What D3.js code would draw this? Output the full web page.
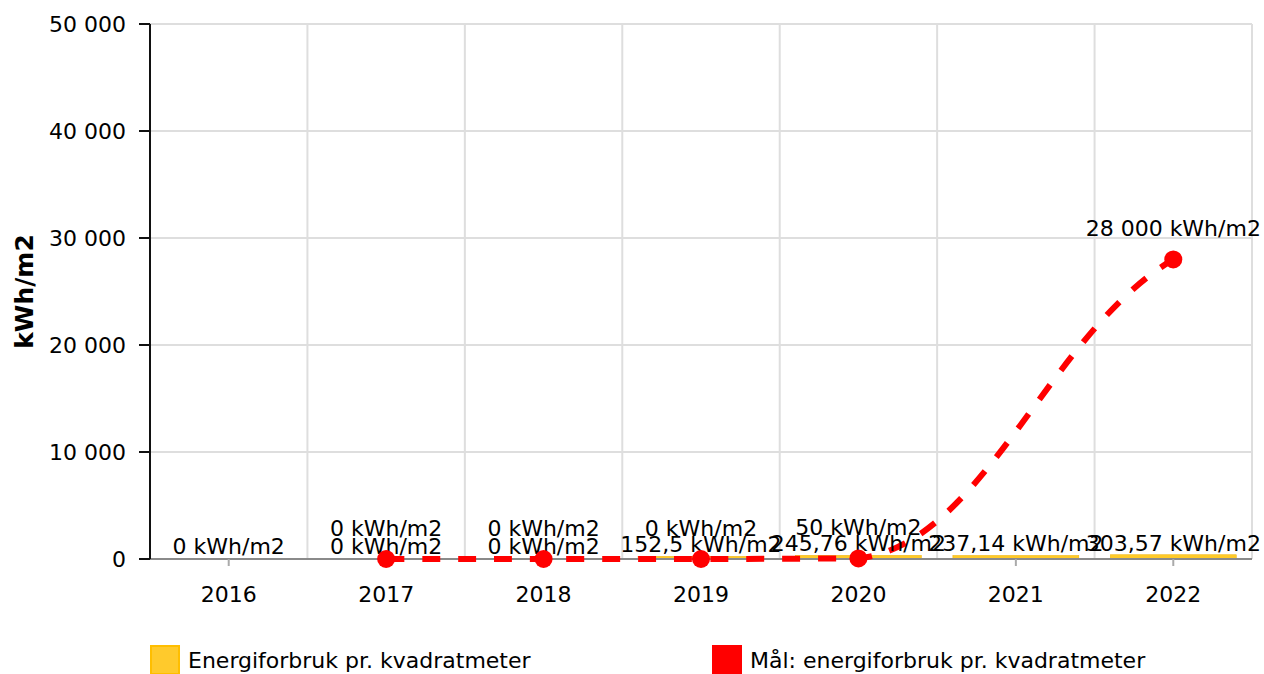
<!DOCTYPE html>
<html>
<head>
<meta charset="utf-8">
<script src="https://cdn.jsdelivr.net/npm/d3@7"></script>
<style>
body{margin:0;background:#fff;}
text{font-family:"DejaVu Sans",Verdana,sans-serif;}
</style>
</head>
<body>
<div id="chart"></div>
<script>
var years = ["2016","2017","2018","2019","2020","2021","2022"]
var usage = [0, 0, 0, 152.5, 245.76, 237.14, 303.57]
var target = [null, 0, 0, 0, 50, null, 28000]
var yTicks = [0, 10000, 20000, 30000, 40000, 50000]
var legendLabels = ["Energiforbruk pr. kvadratmeter", "Mål: energiforbruk pr. kvadratmeter"]

var width = 1264, height = 674
var margin = {top: 24, right: 12, bottom: 115, left: 150}
var fs = "22px"

var svg = d3.select("#chart").append("svg").attr("width", width).attr("height", height)

var x = d3.scaleBand().domain(years)
	.range([margin.left, width - margin.right])
	.paddingInner(0.2).paddingOuter(0.1)
var y = d3.scaleLinear().domain([0, 50000]).range([height - margin.bottom, margin.top])
var step = x.step()

function fmt(v){
	return d3.format(",")(v).replace(/,/g, "\u00a0").replace(".", ",")
}
function cx(d){ return x(d) + x.bandwidth()/2 }

// smooth curve between consecutive points (eases in and out of each segment)
function curveSmooth(context){
	var p = null
	return {
		areaStart: function(){}, areaEnd: function(){},
		lineStart: function(){ p = null },
		lineEnd: function(){},
		point: function(px, py){
			if(!p){ context.moveTo(px, py) }
			else{
				var dx = px - p[0], dy = py - p[1]
				context.bezierCurveTo(p[0] + 0.4*dx, p[1] + 0.05*dy, p[0] + 0.6*dx, p[1] + 0.75*dy, px, py)
			}
			p = [px, py]
		}
	}
}

// grid
var grid = svg.append("g")
grid.selectAll(".hg").data(yTicks.slice(1)).enter().append("line")
	.attr("x1", margin.left).attr("x2", width - margin.right)
	.attr("y1", d => y(d)).attr("y2", d => y(d))
	.attr("stroke", "#dedede").attr("stroke-width", 2)
grid.selectAll(".vg").data(years).enter().append("line")
	.attr("x1", d => x(d) - step*0.1 + step).attr("x2", d => x(d) - step*0.1 + step)
	.attr("y1", margin.top).attr("y2", y(0))
	.attr("stroke", "#dedede").attr("stroke-width", 2)

// bars
svg.append("g").selectAll("rect").data(usage).enter().append("rect")
	.attr("x", (d, i) => x(years[i]))
	.attr("width", x.bandwidth())
	.attr("y", d => y(d) - 1)
	.attr("height", d => d > 0 ? y(0) - y(d) + 1 : 0)
	.attr("fill", "#ffca28").attr("stroke", "#f0b000").attr("stroke-width", 0.5)

// x axis
svg.append("line").attr("x1", margin.left).attr("x2", width - margin.right)
	.attr("y1", y(0)).attr("y2", y(0)).attr("stroke", "#8a8a8a").attr("stroke-width", 2)
var xa = svg.append("g")
xa.selectAll("line").data(years).enter().append("line")
	.attr("x1", cx).attr("x2", cx).attr("y1", y(0)).attr("y2", y(0) + 7)
	.attr("stroke", "#aaa").attr("stroke-width", 2)
xa.selectAll("text").data(years).enter().append("text")
	.attr("x", cx).attr("y", 602).attr("text-anchor", "middle")
	.attr("font-size", fs).attr("fill", "#000").text(d => d)

// y axis
svg.append("line").attr("x1", margin.left).attr("x2", margin.left)
	.attr("y1", margin.top).attr("y2", y(0)).attr("stroke", "#111").attr("stroke-width", 2)
var ya = svg.append("g")
ya.selectAll("line").data(yTicks).enter().append("line")
	.attr("x1", margin.left - 11).attr("x2", margin.left)
	.attr("y1", d => y(d)).attr("y2", d => y(d)).attr("stroke", "#111").attr("stroke-width", 2)
ya.selectAll("text").data(yTicks).enter().append("text")
	.attr("x", 126).attr("y", d => y(d)).attr("dy", "0.36em").attr("text-anchor", "end")
	.attr("font-size", fs).attr("fill", "#000").text(d => fmt(d))
svg.append("text")
	.attr("transform", "translate(33," + (margin.top + y(0))/2 + ") rotate(-90)")
	.attr("text-anchor", "middle").attr("font-size", "25px").attr("font-weight", "bold")
	.attr("fill", "#000").text("kWh/m2")

// target line
var pts = target.map((v, i) => ({year: years[i], v: v})).filter(d => d.v !== null)
var line = d3.line().x(d => cx(d.year)).y(d => y(d.v)).curve(curveSmooth)
svg.append("path").datum(pts).attr("d", line)
	.attr("fill", "none").attr("stroke", "#ff0000").attr("stroke-width", 6)
	.attr("stroke-dasharray", "18,18")

// labels
svg.append("g").selectAll("text").data(usage).enter().append("text")
	.attr("x", (d, i) => cx(years[i])).attr("y", d => y(d) - 5)
	.attr("text-anchor", "middle").attr("font-size", fs).attr("fill", "#000")
	.text(d => fmt(d) + " kWh/m2")
svg.append("g").selectAll("text").data(pts).enter().append("text")
	.attr("x", d => cx(d.year)).attr("y", d => y(d.v) - 23)
	.attr("text-anchor", "middle").attr("font-size", fs).attr("fill", "#000")
	.text(d => fmt(d.v) + " kWh/m2")

// markers
svg.append("g").selectAll("circle").data(pts).enter().append("circle")
	.attr("cx", d => cx(d.year)).attr("cy", d => y(d.v)).attr("r", 9)
	.attr("fill", "#ff0000")

// legend
var legColors = [["#ffca2c", "#ffbe00"], ["#ff0000", "#ff0000"]]
var legX = [150, 712]
var leg = svg.append("g").selectAll("g").data(legendLabels).enter().append("g")
	.attr("transform", (d, i) => "translate(" + legX[i] + ",645)")
leg.append("rect").attr("x", 1).attr("y", 1).attr("width", 28).attr("height", 28)
	.attr("fill", (d, i) => legColors[i][0]).attr("stroke", (d, i) => legColors[i][1]).attr("stroke-width", 2)
leg.append("text").attr("x", 38).attr("y", 23).attr("font-size", fs).attr("fill", "#000")
	.text(d => d)
</script>
</body>
</html>
